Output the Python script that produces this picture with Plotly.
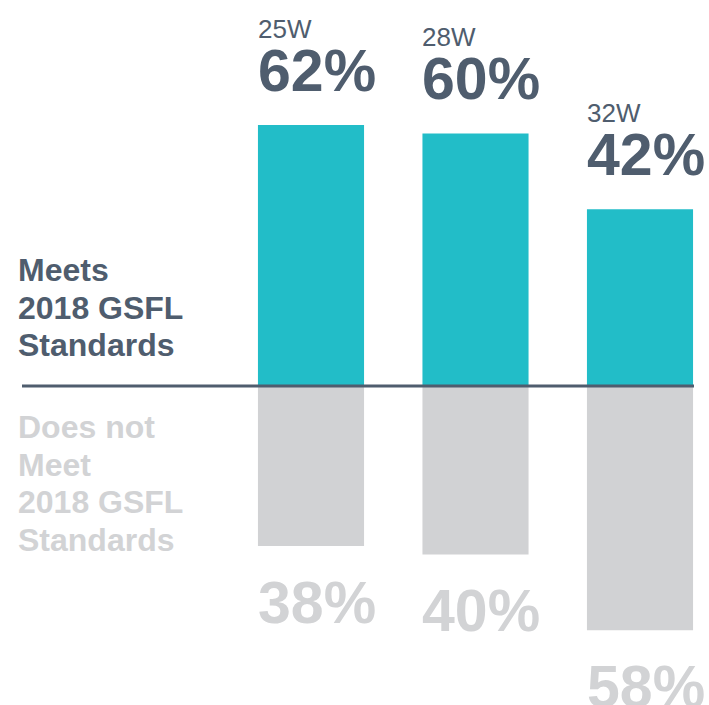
import plotly.graph_objects as go

# Share of lamps meeting / not meeting the 2018 GSFL standards, by wattage
wattages = ["25W", "28W", "32W"]
meets_pct = [62, 60, 42]
fails_pct = [38, 40, 58]
meets_label = ["Meets", "2018 GSFL", "Standards"]
fails_label = ["Does not", "Meet", "2018 GSFL", "Standards"]

TEAL = "#22bdc8"
GREY_BAR = "#d1d2d4"
SLATE = "#4f5d6e"
GREY_TEXT = "#d2d3d5"
FONT = "Liberation Sans, Arial, Helvetica, sans-serif"

W, H = 709, 705
BAR_W = 0.645
xs = list(range(len(wattages)))

fig = go.Figure()
fig.add_trace(go.Bar(x=xs, y=meets_pct, width=BAR_W, marker_color=TEAL,
                     marker_line_width=0, hoverinfo="skip"))
fig.add_trace(go.Bar(x=xs, y=[-v for v in fails_pct], width=BAR_W,
                     marker_color=GREY_BAR, marker_line_width=0, hoverinfo="skip"))

annotations = []
for x, w, m, f in zip(xs, wattages, meets_pct, fails_pct):
    left = x - BAR_W / 2
    annotations.append(dict(x=left, y=m, xref="x", yref="y", text=w,
                            xanchor="left", yanchor="middle", yshift=96, xshift=-2,
                            showarrow=False, font=dict(family=FONT, size=26, color=SLATE)))
    annotations.append(dict(x=left, y=m, xref="x", yref="y", text=f"<b>{m}%</b>",
                            xanchor="left", yanchor="middle", yshift=54, xshift=-2,
                            showarrow=False, font=dict(family=FONT, size=59, color=SLATE)))
    annotations.append(dict(x=left, y=-f, xref="x", yref="y", text=f"<b>{f}%</b>",
                            xanchor="left", yanchor="middle", yshift=-57, xshift=-2,
                            showarrow=False, font=dict(family=FONT, size=59, color=GREY_TEXT)))

# side captions, one line per annotation, stacked above / below the baseline
LINE_GAP = 37.5
for i, line in enumerate(reversed(meets_label)):
    annotations.append(dict(x=16 / W, y=0, xref="paper", yref="y", text=f"<b>{line}</b>",
                            xanchor="left", yanchor="middle", yshift=41 + i * LINE_GAP,
                            showarrow=False, font=dict(family=FONT, size=32, color=SLATE)))
for i, line in enumerate(fails_label):
    annotations.append(dict(x=16 / W, y=0, xref="paper", yref="y", text=f"<b>{line}</b>",
                            xanchor="left", yanchor="middle", yshift=-(41 + i * LINE_GAP),
                            showarrow=False, font=dict(family=FONT, size=32, color=GREY_TEXT)))

# pixel-based axis ranges: bar spacing 164.5px, first bar centred at 311px, baseline at 386px
px_per_x = 164.5
x0_px = 311
px_per_y = 4.21
base_px = 386

fig.update_layout(
    width=W, height=H, autosize=False,
    margin=dict(l=0, r=0, t=0, b=0),
    paper_bgcolor="white", plot_bgcolor="white",
    barmode="overlay", showlegend=False,
    xaxis=dict(range=[-x0_px / px_per_x, (W - x0_px) / px_per_x], visible=False, fixedrange=True),
    yaxis=dict(range=[-(H - base_px) / px_per_y, base_px / px_per_y], visible=False, fixedrange=True),
    shapes=[dict(type="line", xref="paper", yref="y", x0=22 / W, x1=694 / W, y0=0, y1=0,
                 line=dict(color=SLATE, width=3), layer="above")],
    annotations=annotations,
)

fig.write_html("out.html")
